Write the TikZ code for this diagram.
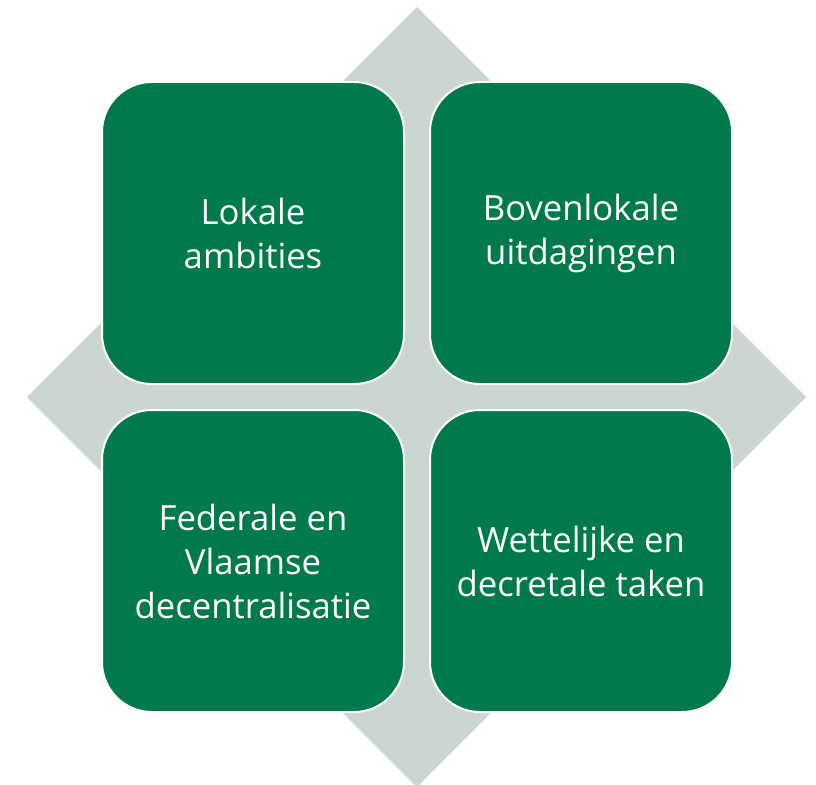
\documentclass[tikz,border=0pt]{standalone}
\usepackage{fontspec}
\setmainfont{Open Sans}
\usepackage{xcolor}
\usetikzlibrary{positioning}

\definecolor{tilegreen}{RGB}{0,122,77}
\definecolor{diamondgrey}{RGB}{203,214,208}

\begin{document}
\begin{tikzpicture}[
        x=0.75pt, y=-0.75pt,
        node distance=18pt and 18pt,
        tile/.style={draw=white, line width=1.5pt, fill=tilegreen, rectangle, rounded corners=37.5pt, minimum width=226.5pt, minimum height=226.5pt, align=center, text=white, font=\fontsize{26}{33}\selectfont}
    ]
    \useasboundingbox (0,0) rectangle (816,784);
    \clip (0,0) rectangle (816,784);

    % Background diamond
    \fill[diamondgrey] (417,7) -- (806,397) -- (417,787) -- (27,397) -- cycle;

    % Tiles
    \node[tile] (tl) at (253,233) {Lokale\\ambities};
    \node[tile] (tr) [right=of tl] {Bovenlokale\\uitdagingen};
    \node[tile] (bl) [below=of tl] {Federale en\\Vlaamse\\decentralisatie};
    \node[tile] (br) [below=of tr] {Wettelijke en\\decretale taken};

\end{tikzpicture}
\end{document}
